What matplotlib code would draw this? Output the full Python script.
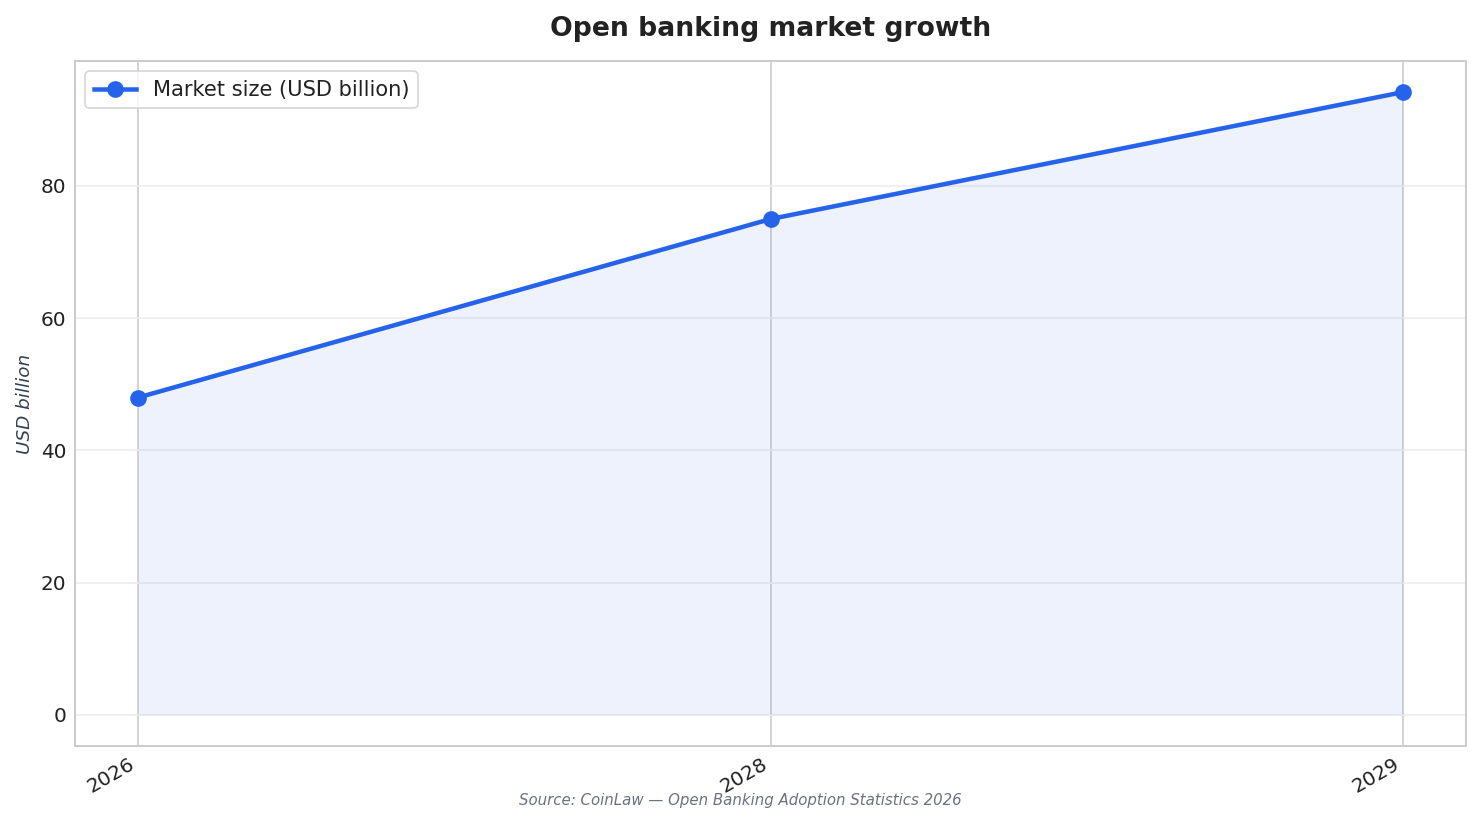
import matplotlib.pyplot as plt
import numpy as np

# data
years = ["2026", "2028", "2029"]
market_size = [48.0, 75.0, 94.2]

line_color = "#2563eb"

plt.rcParams["font.family"] = ["DejaVu Sans"]

fig, ax = plt.subplots(figsize=(1481 / 120, 824 / 120), dpi=120)
fig.subplots_adjust(left=0.0506, right=0.99, top=0.926, bottom=0.0947)

x = np.arange(len(years))
ax.fill_between(x, market_size, color=line_color, alpha=0.08, linewidth=0)
ax.plot(
    x,
    market_size,
    color=line_color,
    linewidth=2.7,
    marker="o",
    markersize=9,
    label="Market size (USD billion)",
    zorder=3
)

ax.set_xticks(x)
ax.set_xticklabels(years)
for label in ax.get_xticklabels():
    label.set_rotation(30)
    label.set_ha("right")

ax.set_axisbelow(True)
ax.grid(axis="y", color="#ededed", linewidth=1)
ax.grid(axis="x", color="#cccccc", linewidth=1)
ax.tick_params(length=0, labelsize=12, colors="#222222", pad=5)

for spine in ax.spines.values():
    spine.set_color("#cccccc")
    spine.set_linewidth(1.2)

ax.set_ylabel("USD billion", fontsize=11, style="italic", color="#334155")
ax.set_title("Open banking market growth", fontsize=16, fontweight="bold",
             color="#222222", pad=15)

legend = ax.legend(loc="upper left", fontsize=12.6, frameon=True, fancybox=True)
legend.get_frame().set_edgecolor("#cccccc")
for text in legend.get_texts():
    text.set_color("#222222")

fig.text(0.5, 0.028, "Source: CoinLaw — Open Banking Adoption Statistics 2026",
         ha="center", va="center", fontsize=9, style="italic", color="#6b7280")

plt.savefig("out.png", dpi=120)
